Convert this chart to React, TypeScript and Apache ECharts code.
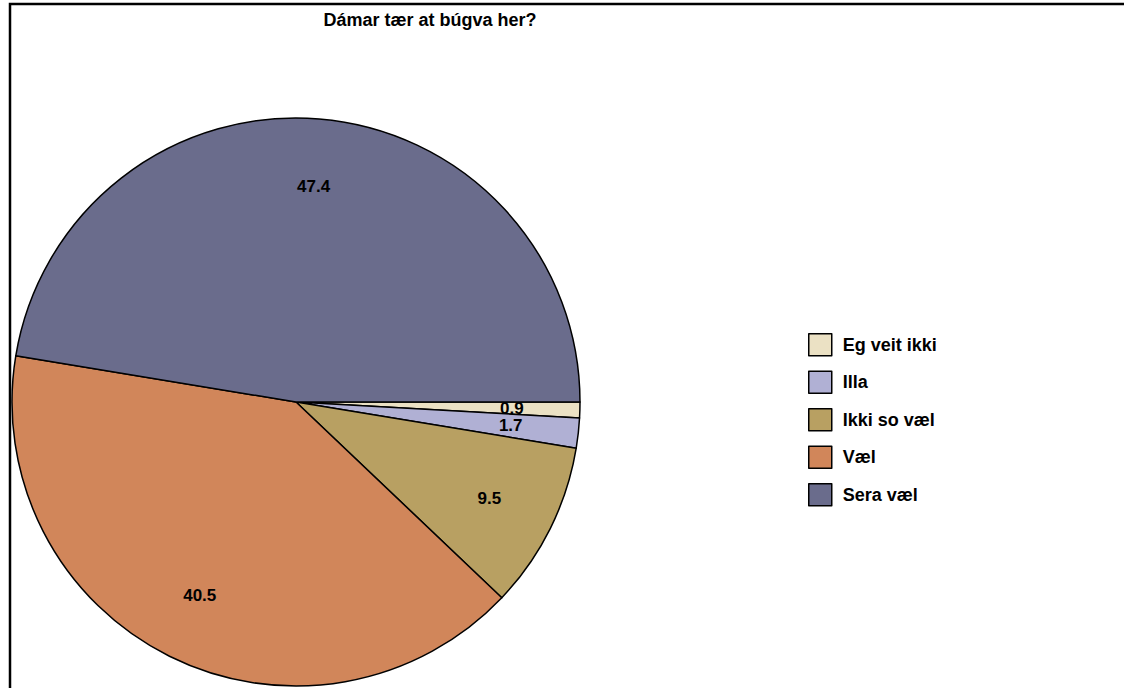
import React, { useEffect, useRef } from "react";
import * as echarts from "echarts";

const titleText = "Dámar tær at búgva her?";
const categories = ["Eg veit ikki", "Illa", "Ikki so væl", "Væl", "Sera væl"];
const values = [0.9, 1.7, 9.5, 40.5, 47.4];
const colors = ["#ebe1c4", "#b0b0d4", "#b8a062", "#d1865a", "#6a6c8c"];

export default function App() {
  const ref = useRef<HTMLDivElement>(null);
  useEffect(() => {
    const chart = echarts.init(ref.current!, null, { renderer: "svg" });
    const data = categories.map((name, i) => ({
      name,
      value: values[i],
      itemStyle: { color: colors[i] },
    }));
    const font = "'Liberation Sans', Arial, sans-serif";
    chart.setOption({
      animation: false,
      backgroundColor: "#ffffff",
      title: {
        text: titleText,
        left: 430,
        top: 11,
        padding: 0,
        textAlign: "center",
        textStyle: { fontFamily: font, fontWeight: "bold", fontSize: 18, color: "#000" },
      },
      legend: {
        orient: "vertical",
        left: 808,
        top: 333,
        padding: 0,
        itemWidth: 23,
        itemHeight: 22,
        itemGap: 14,
        icon: "rect",
        selectedMode: false,
        data: categories.map((name, i) => ({
          name,
          itemStyle: { color: colors[i], borderColor: "#000", borderWidth: 1.5 },
        })),
        textStyle: { fontFamily: font, fontWeight: "bold", fontSize: 18, color: "#000", padding: [0, 0, 0, 6] },
      },
      graphic: [
        {
          type: "polyline",
          shape: { points: [[10, 700], [10, 4], [1130, 4]] },
          style: { fill: "none", stroke: "#000", lineWidth: 2.5 },
          silent: true,
        },
      ],
      series: [
        {
          type: "pie",
          center: [296, 402],
          radius: [0, 284],
          startAngle: 0,
          clockwise: true,
          label: { show: false },
          labelLine: { show: false },
          itemStyle: { borderColor: "#000", borderWidth: 1.5 },
          emphasis: { disabled: true },
          data,
        },
        {
          type: "pie",
          center: [296, 402],
          radius: [0, 426],
          startAngle: 0,
          clockwise: true,
          silent: true,
          z: 5,
          itemStyle: { color: "rgba(0,0,0,0)", borderWidth: 0 },
          label: {
            show: true,
            position: "inside",
            formatter: (p: any) => String(p.value),
            fontFamily: font,
            fontWeight: "bold",
            fontSize: 17,
            color: "#000",
          },
          labelLine: { show: false },
          emphasis: { disabled: true },
          data: categories.map((name, i) => ({ name, value: values[i] })),
        },
      ],
    });
    return () => chart.dispose();
  }, []);
  return (
    <div
      ref={ref}
      style={{ position: "fixed", left: 0, top: 0, width: 1124, height: 688 }}
    />
  );
}
